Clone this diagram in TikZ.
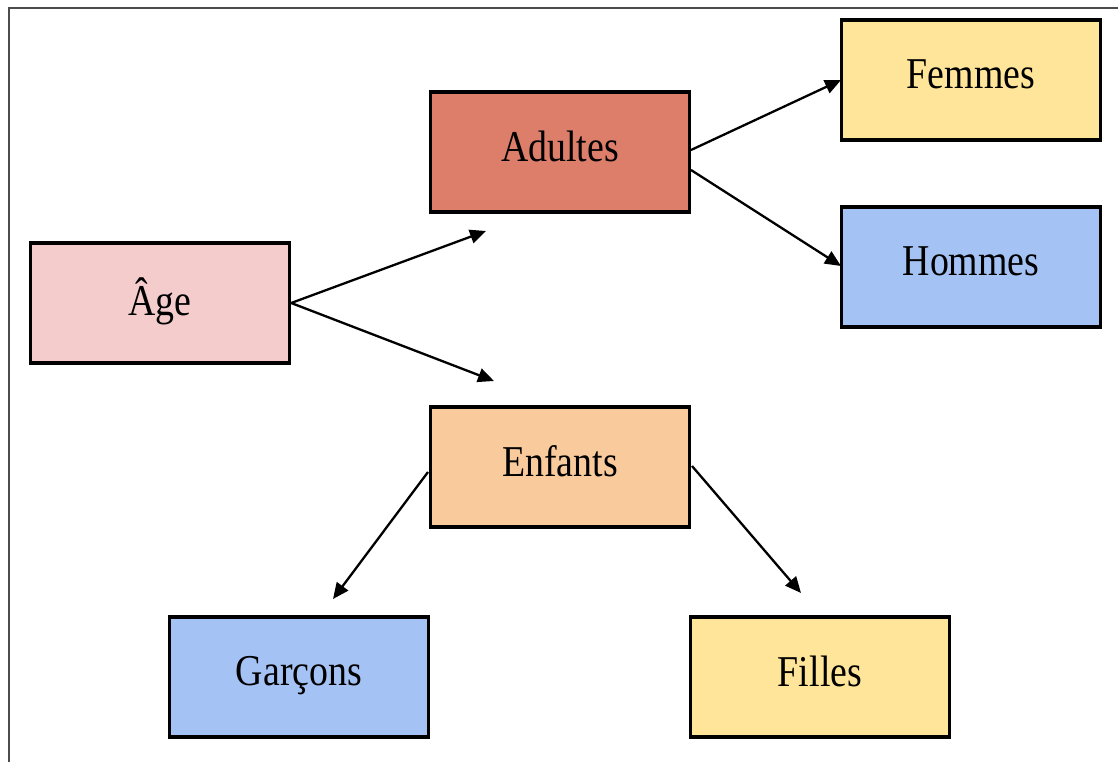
\documentclass[tikz,border=0pt]{standalone}
\usepackage{fontspec}
\setmainfont[FakeStretch=0.86]{Liberation Serif}
\usetikzlibrary{arrows.meta,calc}
\definecolor{cpink}{HTML}{F4CCCC}
\definecolor{cred}{HTML}{DD7E6B}
\definecolor{cyellow}{HTML}{FFE599}
\definecolor{cblue}{HTML}{A4C2F4}
\definecolor{corange}{HTML}{F9CB9C}
\newcommand{\lift}[1]{\raisebox{12pt}{#1}}
\tikzset{
  box/.style={draw=black, line width=3.4pt, rectangle, minimum width=259pt, minimum height=120pt, inner sep=0pt, font=\fontsize{44}{48}\selectfont},
  conn/.style={line width=2.3pt, -{Triangle[length=16pt,width=14pt]}},
}
\begin{document}
\begin{tikzpicture}[x=1pt,y=-1pt]
\useasboundingbox (0,0) rectangle (1118,762);
\draw[line width=1.6pt, color=black!70] (9,762) -- (9,8) -- (1118,8);
\node[box, fill=cpink] (age) at (160,303) {\lift{Âge}};
\node[box, fill=cred] (adultes) at (560,152) {\lift{Adultes}};
\node[box, fill=cyellow] (femmes) at (971,80) {\lift{Femmes}};
\node[box, fill=cblue] (hommes) at (971,267) {\lift{Hommes}};
\node[box, fill=corange] (enfants) at (560,467) {\lift{Enfants}};
\node[box, fill=cblue] (garcons) at (299,677) {\lift{Garçons}};
\node[box, fill=cyellow] (filles) at (820,677) {\lift{Filles}};
\coordinate (a1) at (486,231);
\coordinate (a2) at (494,381);
\coordinate (a3) at (841,80);
\coordinate (a4) at (841,266);
\coordinate (a5) at (333,599);
\coordinate (a6) at (801,593);
\coordinate (s3) at (691,150);
\coordinate (s4) at (691,170);
\coordinate (s5) at (428,472);
\coordinate (s6) at (692,466);
\draw[conn] (age.east) -- (a1);
\draw[conn] (age.east) -- (a2);
\draw[conn] (s3) -- (a3);
\draw[conn] (s4) -- (a4);
\draw[conn] (s5) -- (a5);
\draw[conn] (s6) -- (a6);
\end{tikzpicture}
\end{document}
